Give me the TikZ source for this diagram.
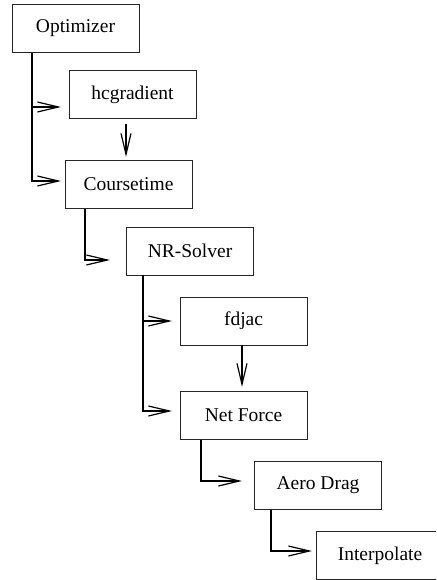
\documentclass[tikz,border=0pt]{standalone}
\usepackage{fontspec}
\setmainfont{Liberation Serif}
\usetikzlibrary{arrows.meta}
\begin{document}
\begin{tikzpicture}[x=1pt,y=-1pt,
  box/.style={draw=black!85,line width=0.9pt,minimum width=127pt,minimum height=48pt,inner sep=0pt,
    font=\fontsize{19.5}{22}\selectfont},
  conn/.style={draw=black,line width=1.2pt,-{Straight Barb[length=21pt,width=10pt,line width=1.2pt]}}]
\useasboundingbox (0,0) rectangle (436,580);
\clip (0,0) rectangle (436,580);
\node[box] (opt) at (75.5,28.5) {Optimizer};
\node[box] (hcg) at (132.5,94.5) {hcgradient};
\node[box] (ct) at (128.5,184.5) {Coursetime};
\node[box] (nr) at (190,251) {NR-Solver};
\node[box] (fd) at (243.5,321) {fdjac};
\node[box] (nf) at (243.5,415.5) {Net Force};
\node[box] (ad) at (318,485.5) {Aero Drag};
\node[box] (ip) at (380,555.5) {Interpolate};
% tips and starts
\coordinate (t1) at (61,107);
\coordinate (t2) at (61,181);
\coordinate (s3) at (126,124);
\coordinate (t3) at (126,157);
\coordinate (t4) at (110,260);
\coordinate (t5) at (172,321);
\coordinate (t6) at (172,411);
\coordinate (t7) at (242,387);
\coordinate (t8) at (242,481);
\coordinate (t9) at (312,551);
% connectors
\draw[conn] (opt.south -| 32,0) |- (t1);
\draw[conn] (opt.south -| 32,0) |- (t2);
\draw[conn] (s3) -- (t3);
\draw[conn] (ct.south -| 85,0) |- (t4);
\draw[conn] (nr.south -| 143,0) |- (t5);
\draw[conn] (nr.south -| 143,0) |- (t6);
\draw[conn] (fd.south -| t7) -- (t7);
\draw[conn] (nf.south -| 201,0) |- (t8);
\draw[conn] (ad.south -| 271,0) |- (t9);
\end{tikzpicture}
\end{document}
